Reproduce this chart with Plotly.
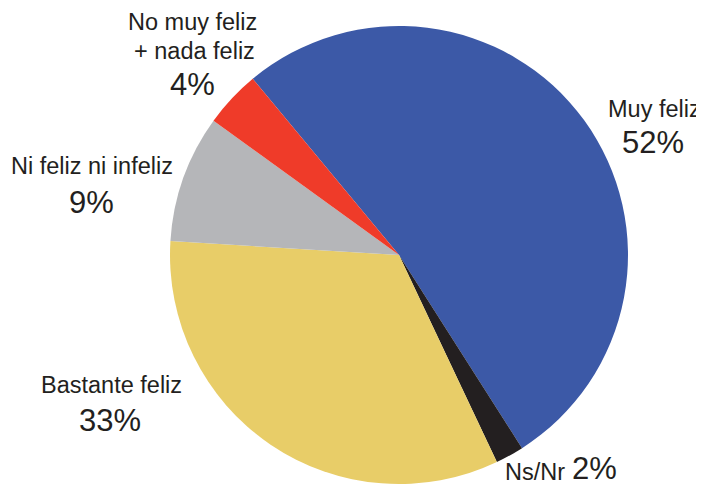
import plotly.graph_objects as go

categories = ["Muy feliz", "Ns/Nr", "Bastante feliz", "Ni feliz ni infeliz", "No muy feliz + nada feliz"]
values = [52, 2, 33, 9, 4]
colors = ["#3C59A7", "#231F20", "#E8CD68", "#B5B6B9", "#EF3B29"]
pct_labels = ["52%", "2%", "33%", "9%", "4%"]

W, H = 704, 486
OFF = 8  # browser body margin
cx, cy, r = 399 - OFF, 255 - OFF, 229

fig = go.Figure(go.Pie(
    labels=categories,
    values=values,
    marker=dict(colors=colors, line=dict(width=0)),
    sort=False,
    direction="clockwise",
    rotation=-39.7,
    textinfo="none",
    hoverinfo="label+percent",
    showlegend=False,
    domain=dict(x=[(cx - r) / W, (cx + r) / W], y=[1 - (cy + r) / H, 1 - (cy - r) / H]),
))

txt = "#231F20"
font = "Liberation Sans, Arial, sans-serif"
small, big = 23.5, 31

def ann(x, y, text, size, xanchor="center"):
    fig.add_annotation(x=(x - OFF) / W, y=1 - (y - OFF) / H, xref="paper", yref="paper", text=text,
                       showarrow=False, xanchor=xanchor, yanchor="middle",
                       font=dict(family=font, size=size, color=txt))

ann(654, 108.5, categories[0], small)
ann(653, 142.5, pct_labels[0], big)
ann(192, 22.5, "No muy feliz", small)
ann(194, 51, "+ nada feliz", small)
ann(192, 84.5, pct_labels[4], big)
ann(92, 165.5, categories[3], small)
ann(91, 202, pct_labels[3], big)
ann(111, 385, categories[2], small)
ann(110, 420, pct_labels[2], big)
ann(534.5, 472, categories[1], small)
ann(594, 468.5, pct_labels[1], big)

fig.update_layout(width=W, height=H, margin=dict(l=0, r=0, t=0, b=0),
                  paper_bgcolor="white", plot_bgcolor="white")
fig.write_html("out.html")
